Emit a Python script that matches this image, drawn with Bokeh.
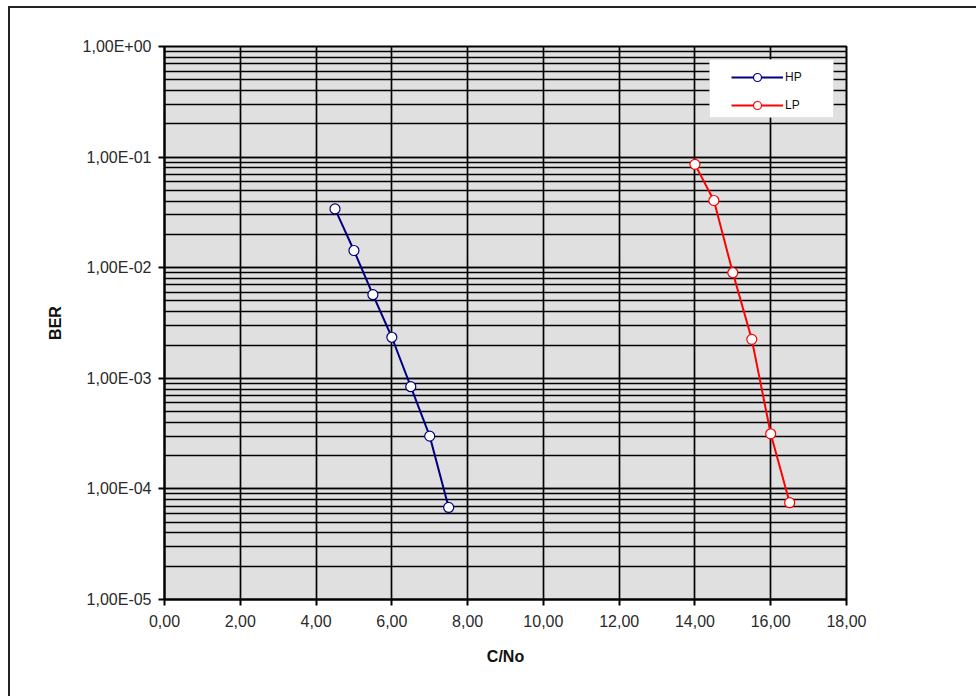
from bokeh.plotting import figure
from bokeh.models import (LogTicker, FixedTicker, CustomJSTickFormatter, BoxAnnotation,
                          Legend, LegendItem, Range1d)
from bokeh.embed import file_html
from bokeh.resources import INLINE

# ---- data ----
cn_hp = [4.5, 5.0, 5.5, 6.0, 6.5, 7.0, 7.5]
ber_hp = [3.4e-2, 1.43e-2, 5.7e-3, 2.35e-3, 8.4e-4, 3.0e-4, 6.8e-5]
cn_lp = [14.0, 14.5, 15.0, 15.5, 16.0, 16.5]
ber_lp = [8.6e-2, 4.05e-2, 9.0e-3, 2.25e-3, 3.15e-4, 7.5e-5]
x_ticks = [0, 2, 4, 6, 8, 10, 12, 14, 16, 18]
y_ticks = [1e-5, 1e-4, 1e-3, 1e-2, 1e-1, 1e0]
series_names = ["HP", "LP"]
x_title = "C/No"
y_title = "BER"

FONT = "Liberation Sans"
OX, OY = 10, 8  # offset of the canvas (outer frame drawn as a shadow just outside)

p = figure(width=978 - OX, height=698 - OY, output_backend="svg", toolbar_location=None,
           y_axis_type="log", x_range=Range1d(0, 18), y_range=Range1d(1e-5, 1.0),
           min_border_left=164 - OX, min_border_right=132, min_border_top=46 - OY,
           min_border_bottom=99)
p.styles = {"margin-left": f"{OX}px", "margin-top": f"{OY}px",
            "box-shadow": "-2px -2px 0px 0px #222222"}
p.background_fill_color = "#e0e0e0"
p.border_fill_color = "white"
p.outline_line_color = "black"
p.outline_line_width = 2

# grid
p.xgrid.ticker = FixedTicker(ticks=x_ticks)
p.xgrid.grid_line_color = "black"
p.xgrid.grid_line_width = 1.7
p.ygrid.ticker = LogTicker(num_minor_ticks=10)
p.ygrid.grid_line_color = "black"
p.ygrid.grid_line_width = 1.7
p.ygrid.minor_grid_line_color = "black"
p.ygrid.minor_grid_line_width = 1.7

# axes
p.xaxis.ticker = FixedTicker(ticks=x_ticks)
p.yaxis.ticker = FixedTicker(ticks=y_ticks, minor_ticks=[])
p.xaxis.formatter = CustomJSTickFormatter(code="return tick.toFixed(2).replace('.', ',');")
p.yaxis.formatter = CustomJSTickFormatter(code="""
const e = Math.round(Math.log10(tick));
const m = tick / Math.pow(10, e);
const ae = Math.abs(e);
return m.toFixed(2).replace('.', ',') + 'E' + (e < 0 ? '-' : '+') + (ae < 10 ? '0' : '') + ae;
""")
for ax in (p.xaxis, p.yaxis):
    ax.axis_line_color = "black"
    ax.axis_line_width = 2
    ax.major_tick_line_color = "black"
    ax.major_tick_line_width = 2
    ax.major_tick_out = 6
    ax.major_tick_in = 0
    ax.minor_tick_line_color = None
    ax.major_label_text_font = FONT
    ax.major_label_text_font_size = "16px"
    ax.major_label_text_color = "#2a2a2a"
    ax.axis_label_text_font = FONT
    ax.axis_label_text_font_size = "16px"
    ax.axis_label_text_font_style = "bold"
    ax.axis_label_text_color = "#111111"
p.xaxis.axis_label = x_title
p.yaxis.axis_label = y_title
p.xaxis.major_label_standoff = 9
p.yaxis.major_label_standoff = 7
p.xaxis.axis_label_standoff = 18
p.yaxis.axis_label_standoff = 16

# legend box
lbox = BoxAnnotation(left=709 - OX, right=833 - OX, top=59 - OY, bottom=117 - OY,
                     left_units="canvas", right_units="canvas",
                     top_units="canvas", bottom_units="canvas",
                     fill_color="white", fill_alpha=1, line_color="#c8c8c8", line_width=1)
p.add_layout(lbox)

# series
l1 = p.line(cn_hp, ber_hp, line_color="#000080", line_width=2)
s1 = p.scatter(cn_hp, ber_hp, marker="circle", size=10, fill_color="white",
               line_color="#000080", line_width=1.2)
l2 = p.line(cn_lp, ber_lp, line_color="#ff0000", line_width=2)
s2 = p.scatter(cn_lp, ber_lp, marker="circle", size=10, fill_color="white",
               line_color="#ff0000", line_width=1.2)

legend = Legend(items=[LegendItem(label=series_names[0], renderers=[l1, s1]),
                       LegendItem(label=series_names[1], renderers=[l2, s2])],
                location=(567, 484), padding=5, spacing=8, margin=0,
                glyph_width=52, glyph_height=20, label_standoff=2,
                label_text_font=FONT, label_text_font_size="12px",
                label_text_color="#111111",
                background_fill_alpha=0, border_line_color=None)
p.add_layout(legend)

open("out.html", "w").write(file_html(p, INLINE))
